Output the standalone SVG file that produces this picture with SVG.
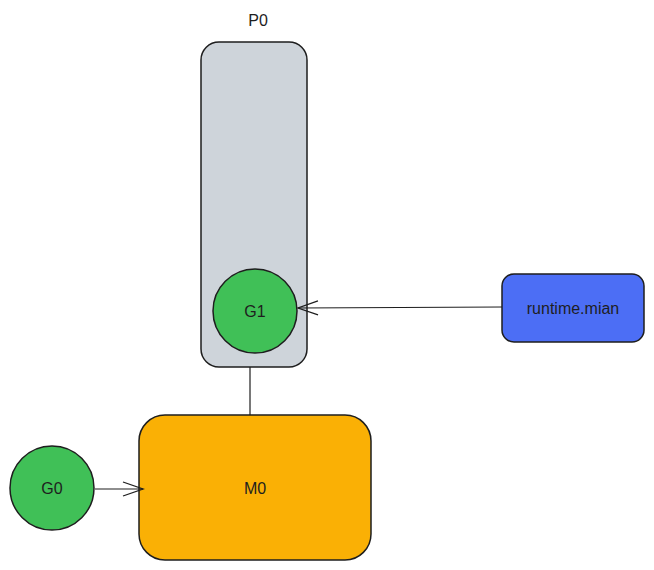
<svg xmlns="http://www.w3.org/2000/svg" width="654" height="570" viewBox="0 0 654 570">
<style>
.n{stroke:#1e1e1e;stroke-width:1.5}
.t{font-family:"Liberation Sans",Arial,sans-serif;font-size:16px;fill:#1e1e1e;text-anchor:middle;dominant-baseline:central}
.c{fill:none;stroke:#1e1e1e;stroke-width:1.2}
</style>
<defs>
<marker id="ah" markerWidth="24" markerHeight="16" refX="22" refY="8" orient="auto" markerUnits="userSpaceOnUse">
<path d="M2,1 L22,8 L2,15" fill="none" stroke="#1e1e1e" stroke-width="1.3"/>
</marker>
</defs>
<rect width="654" height="570" fill="#ffffff"/>
<g id="P0">
<rect class="n" x="201" y="42" width="106" height="325" rx="18" fill="#ced4da"/>
<text class="t" x="258" y="20">P0</text>
</g>
<g id="G1">
<circle class="n" cx="255" cy="311" r="42" fill="#40c057"/>
<text class="t" x="255" y="311">G1</text>
</g>
<g id="runtime_mian">
<rect class="n" x="502" y="274" width="142" height="68" rx="12" fill="#4c6ef5"/>
<text class="t" x="573" y="308">runtime.mian</text>
</g>
<g id="M0">
<rect class="n" x="139" y="415" width="232" height="145" rx="26" fill="#fab005"/>
<text class="t" x="255" y="488">M0</text>
</g>
<g id="G0">
<circle class="n" cx="52" cy="488" r="42" fill="#40c057"/>
<text class="t" x="52" y="488">G0</text>
</g>
<g id="connectors">
<path class="c" d="M502,307 L298,308" marker-end="url(#ah)"/>
<path class="c" d="M250,367 L250,415"/>
<path class="c" d="M95,489 L143,489" marker-end="url(#ah)"/>
</g>
</svg>
